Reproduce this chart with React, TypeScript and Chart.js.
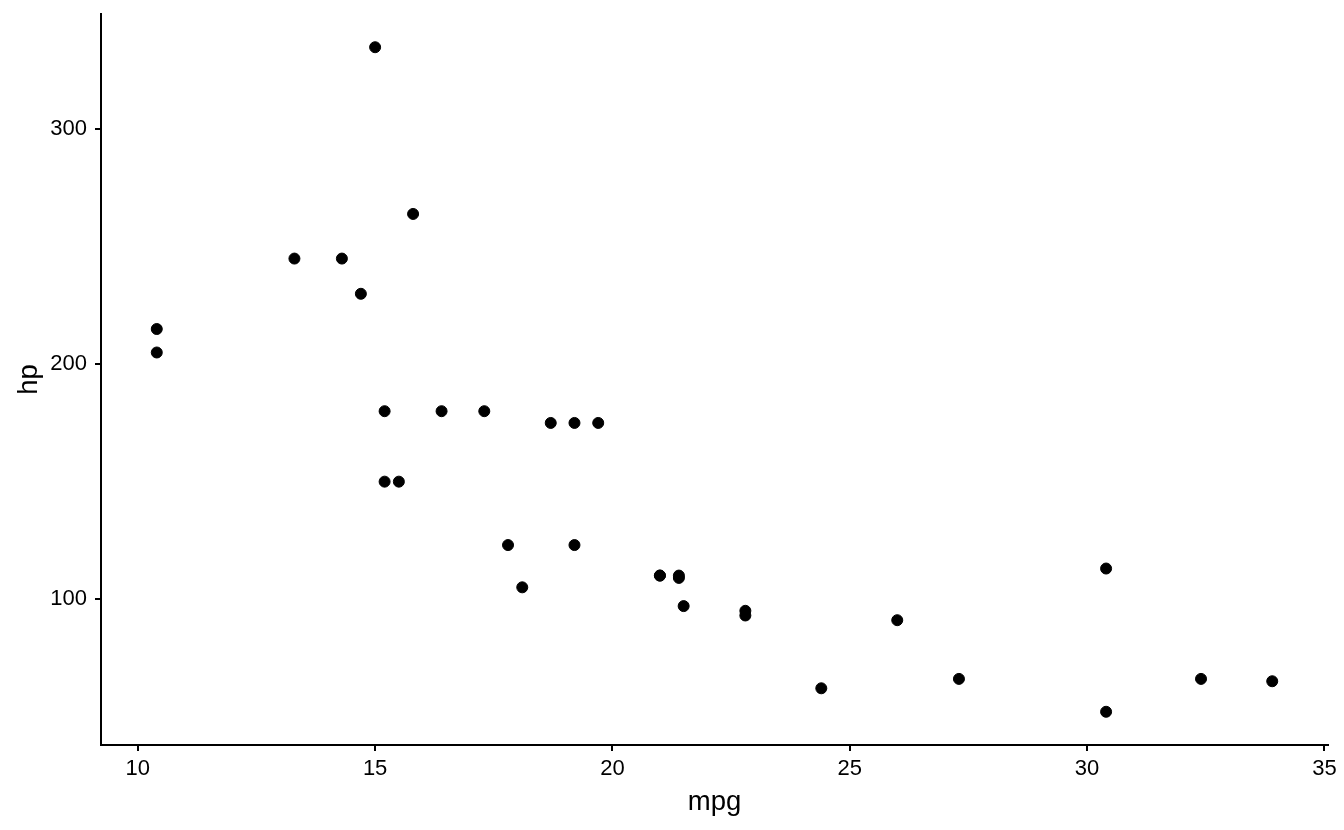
import React, { useEffect, useRef } from "react";
import { Chart, registerables } from "chart.js";

Chart.register(...registerables);

const mpg = [21.0, 21.0, 22.8, 21.4, 18.7, 18.1, 14.3, 24.4, 22.8, 19.2, 17.8, 16.4, 17.3, 15.2, 10.4, 10.4, 14.7, 32.4, 30.4, 33.9, 21.5, 15.5, 15.2, 13.3, 19.2, 27.3, 26.0, 30.4, 15.8, 19.7, 15.0, 21.4];
const hp = [110, 110, 93, 110, 175, 105, 245, 62, 95, 123, 123, 180, 180, 180, 205, 215, 230, 66, 52, 65, 97, 150, 150, 245, 175, 66, 91, 113, 264, 175, 335, 109];
const xTickValues = [10, 15, 20, 25, 30, 35];
const yTickValues = [100, 200, 300];
const xLabel = "mpg";
const yLabel = "hp";
const xMin = 9.225;
const xMax = 35.075;
const yMin = 37.85;
const yMax = 349.15;

const FONT = "'Liberation Sans', Arial, Helvetica, sans-serif";

export default function App() {
  const ref = useRef<HTMLCanvasElement>(null);
  useEffect(() => {
    const chart = new Chart(ref.current!, {
      type: "scatter",
      data: {
        datasets: [
          {
            data: mpg.map((m, i) => ({ x: m, y: hp[i] })),
            backgroundColor: "#000",
            borderColor: "#000",
            pointRadius: 5.5,
            borderWidth: 1,
            pointHoverRadius: 5.5,
          },
        ],
      },
      options: {
        responsive: false,
        animation: false,
        layout: { padding: { top: 14, right: 16, left: 0, bottom: 0 } },
        plugins: { legend: { display: false }, tooltip: { enabled: false } },
        scales: {
          x: {
            type: "linear",
            min: xMin,
            max: xMax,
            afterBuildTicks: (s: any) => {
              s.ticks = xTickValues.map((v) => ({ value: v }));
            },
            afterFit: (s: any) => {
              s.height = 85;
              s.paddingLeft = 0;
              s.paddingRight = 0;
            },
            grid: { display: true, drawOnChartArea: false, drawTicks: true, tickLength: 6, color: "#000", lineWidth: 2 },
            border: { display: true, color: "#000", width: 2 },
            ticks: { color: "#000", font: { family: FONT, size: 22 }, padding: 5, maxRotation: 0, autoSkip: false },
            title: { display: true, text: xLabel, color: "#000", font: { family: FONT, size: 27.5 }, padding: { top: 0, bottom: 11.5 } },
          },
          y: {
            type: "linear",
            min: yMin,
            max: yMax,
            afterBuildTicks: (s: any) => {
              s.ticks = yTickValues.map((v) => ({ value: v }));
            },
            afterFit: (s: any) => {
              s.width = 101;
              s.paddingTop = 0;
              s.paddingBottom = 0;
            },
            grid: { display: true, drawOnChartArea: false, drawTicks: true, tickLength: 6, color: "#000", lineWidth: 2 },
            border: { display: true, color: "#000", width: 2 },
            ticks: { color: "#000", font: { family: FONT, size: 22 }, padding: 8, autoSkip: false },
            title: { display: true, text: yLabel, color: "#000", font: { family: FONT, size: 27.5 }, padding: { top: 12.5, bottom: 0 } },
          },
        },
      },
    });
    return () => chart.destroy();
  }, []);
  return (
    <div style={{ position: "fixed", left: 0, top: 0, width: 1344, height: 830, background: "#fff" }}>
      <canvas ref={ref} width={1344} height={830} style={{ display: "block", width: 1344, height: 830 }} />
    </div>
  );
}
